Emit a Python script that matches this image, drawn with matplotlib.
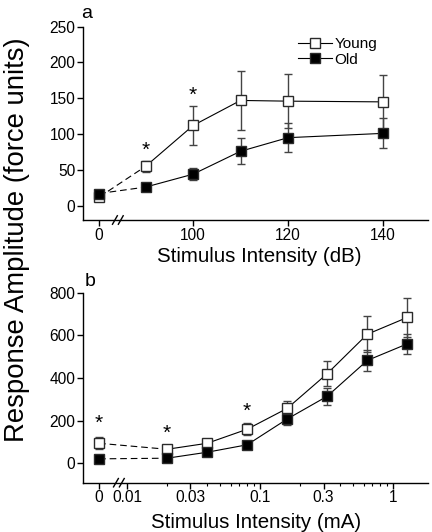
import numpy as np
import matplotlib
matplotlib.use("Agg")
import matplotlib.pyplot as plt
from matplotlib.ticker import FixedLocator, NullFormatter

plt.rcParams['font.family'] = ['Liberation Sans', 'DejaVu Sans']

# ---------------- data ----------------
# Panel a: acoustic stimulus (dB); 0 = no stimulus
db_levels = [0, 90, 100, 110, 120, 140]
young_db = [12, 55, 112, 147, 146, 145]
young_db_err = [5, 8, 27, 41, 38, 38]
old_db = [17, 26, 44, 76, 95, 101]
old_db_err = [4, 4, 8, 18, 20, 21]
sig_db = [90, 100]
db_tick_labels = ['0', '100', '120', '140']
db_ticks = [0, 100, 120, 140]

# Panel b: electrical stimulus (mA); 0 = no stimulus
ma_levels = [0, 0.02, 0.04, 0.08, 0.16, 0.32, 0.64, 1.28]
young_ma = [93, 65, 93, 159, 257, 420, 605, 684]
young_ma_err = [28, 15, 8, 28, 35, 60, 85, 92]
old_ma = [20, 23, 51, 86, 207, 314, 482, 560]
old_ma_err = [5, 8, 8, 8, 30, 40, 48, 46]
sig_ma = [0, 0.02, 0.08]
ma_ticks = [0, 0.01, 0.03, 0.1, 0.3, 1]
ma_tick_labels = ['0', '0.01', '0.03', '0.1', '0.3', '1']

# ---------------- layout helpers ----------------
ZERO_A = 80.2      # where the "0" (no stimulus) point is drawn on the dB axis
ZERO_B = 0.00617   # where the "0" point is drawn on the mA log axis


def pos_a(v):
    return np.array([ZERO_A if x == 0 else x for x in v], dtype=float)


def pos_b(v):
    return np.array([ZERO_B if x == 0 else x for x in v], dtype=float)


W, H = 432, 532
fig = plt.figure(figsize=(W / 100, H / 100), dpi=100)

ax_a = fig.add_axes([83 / W, 1 - 220 / H, 345 / W, 193.3 / H])
ax_b = fig.add_axes([83 / W, 1 - 482.7 / H, 345 / W, 190 / H])

edge = '#2a2a2a'
ecol = '#444444'


def draw_series(ax, x, y, err, filled, label, ms):
    x = np.asarray(x)
    y = np.asarray(y)
    fc = 'black' if filled else 'white'
    # dashed segment from "0" to first stimulus, solid for the rest
    ax.plot(x[:2], y[:2], color='black', lw=0.8, ls=(0, (6, 3.5)), zorder=2)
    ax.plot(x[1:], y[1:], color='black', lw=0.8, zorder=2)
    ax.errorbar(x, y, yerr=err, fmt='none', ecolor=ecol, elinewidth=1.0,
                capsize=2.6, capthick=1.0, zorder=3)
    ax.plot(x, y, ls='none', marker='s', ms=ms, mfc=fc, mec=edge, mew=1.0,
            zorder=4)
    # legend proxy
    ax.plot([], [], color='black', lw=0.8, marker='s', ms=ms, mfc=fc,
            mec=edge, mew=1.0, label=label)


# ---------------- panel a ----------------
draw_series(ax_a, pos_a(db_levels), young_db, young_db_err, False, 'Young', 7.5)
draw_series(ax_a, pos_a(db_levels), old_db, old_db_err, True, 'Old', 7.5)
for s in sig_db:
    i = db_levels.index(s)
    ax_a.text(pos_a([s])[0], young_db[i] + young_db_err[i] + 15, '*',
              ha='center', va='center', fontsize=15)

ax_a.set_xlim(76.8, 149.5)
ax_a.set_ylim(-20, 250)
ax_a.set_yticks([0, 50, 100, 150, 200, 250])
ax_a.set_xticks(pos_a(db_ticks))
ax_a.set_xticklabels(db_tick_labels)

leg = ax_a.legend(loc='upper left', bbox_to_anchor=(298 / W, 1 - 37 / H),
                  bbox_transform=fig.transFigure, frameon=False, fontsize=11,
                  handlelength=2.2, handletextpad=0.2, labelspacing=0.1,
                  borderpad=0, borderaxespad=0)

# ---------------- panel b ----------------
ax_b.set_xscale('log')
draw_series(ax_b, pos_b(ma_levels), young_ma, young_ma_err, False, 'Young', 7)
draw_series(ax_b, pos_b(ma_levels), old_ma, old_ma_err, True, 'Old', 7)
sig_off_b = [68, 62, 55]
for s, off in zip(sig_ma, sig_off_b):
    i = ma_levels.index(s)
    ax_b.text(pos_b([s])[0], young_ma[i] + young_ma_err[i] + off, '*',
              ha='center', va='center', fontsize=15)

ax_b.set_xlim(0.00467, 1.83)
ax_b.set_ylim(-92, 800)
ax_b.set_yticks([0, 200, 400, 600, 800])
ax_b.xaxis.set_major_locator(FixedLocator(pos_b(ma_ticks)))
ax_b.set_xticklabels(ma_tick_labels)
minor = [0.02, 0.04, 0.05, 0.06, 0.07, 0.08, 0.09, 0.2, 0.4, 0.5, 0.6, 0.7,
         0.8, 0.9]
ax_b.xaxis.set_minor_locator(FixedLocator(minor))
ax_b.xaxis.set_minor_formatter(NullFormatter())

# ---------------- common styling ----------------
for ax in (ax_a, ax_b):
    for sp in ('top', 'right'):
        ax.spines[sp].set_visible(False)
    for sp in ('left', 'bottom'):
        ax.spines[sp].set_linewidth(1.0)
    ax.tick_params(which='major', direction='out', length=4, width=1.0,
                   labelsize=11.2, pad=1.5)
    ax.tick_params(which='minor', direction='out', length=2.5, width=0.8)

# axis break marks
for ax, cx in ((ax_a, 0.101), (ax_b, 0.104)):
    for dx in (-0.0085, 0.0085):
        ax.plot([cx + dx - 0.007, cx + dx + 0.007], [-0.022, 0.022],
                transform=ax.transAxes, color='black', lw=1.0,
                clip_on=False, zorder=5)

# labels
fig.text(87 / W, 1 - 14 / H, 'a', fontsize=14, ha='center', va='center')
fig.text(90 / W, 1 - 282 / H, 'b', fontsize=14, ha='center', va='center')
fig.text(259 / W, 1 - 257 / H, 'Stimulus Intensity (dB)', fontsize=14.8,
         ha='center', va='center')
fig.text(256 / W, 1 - 522 / H, 'Stimulus Intensity (mA)', fontsize=14.8,
         ha='center', va='center')
fig.text(17 / W, 1 - 240 / H, 'Response Amplitude (force units)',
         fontsize=19.8, rotation=90, ha='center', va='center')

fig.savefig('out.png', dpi=100)
